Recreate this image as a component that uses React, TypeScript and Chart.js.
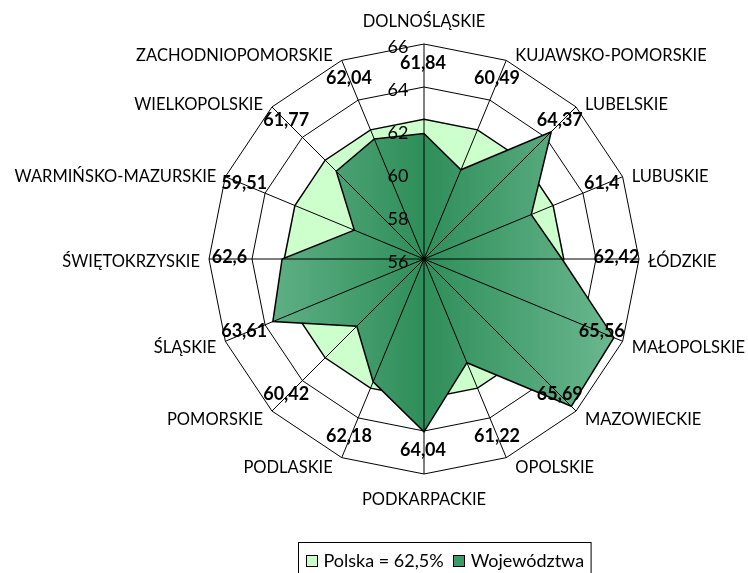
import { useEffect, useRef } from "react";
import { Chart, registerables } from "chart.js";

Chart.register(...registerables);

const categories = [
  "DOLNOŚLĄSKIE",
  "KUJAWSKO-POMORSKIE",
  "LUBELSKIE",
  "LUBUSKIE",
  "ŁÓDZKIE",
  "MAŁOPOLSKIE",
  "MAZOWIECKIE",
  "OPOLSKIE",
  "PODKARPACKIE",
  "PODLASKIE",
  "POMORSKIE",
  "ŚLĄSKIE",
  "ŚWIĘTOKRZYSKIE",
  "WARMIŃSKO-MAZURSKIE",
  "WIELKOPOLSKIE",
  "ZACHODNIOPOMORSKIE",
];

const wojewodztwa = [
  61.84, 60.49, 64.37, 61.4, 62.42, 65.56, 65.69, 61.22, 64.04, 62.18, 60.42,
  63.61, 62.6, 59.51, 61.77, 62.04,
];

const polska = [
  62.5, 62.5, 62.5, 62.5, 62.5, 62.5, 62.5, 62.5, 62.5, 62.5, 62.5, 62.5, 62.5,
  62.5, 62.5, 62.5,
];

const tickValues = [56, 58, 60, 62, 64, 66];
const seriesLabels = ["Polska = 62,5%", "Województwa"];

const FONT = "Lato, 'Open Sans', sans-serif";
const LIGHT = "#ccffcc";
const DARK_SWATCH = "#3f9a6a";

const overlayPlugin = {
  id: "overlay",
  afterDatasetsDraw(chart: any) {
    const r = chart.scales.r;
    const ctx = chart.ctx as CanvasRenderingContext2D;
    const n = categories.length;
    ctx.save();
    // spokes drawn on top of fills
    ctx.strokeStyle = "#000";
    ctx.lineWidth = 1;
    for (let i = 0; i < n; i++) {
      const p = r.getPointPositionForValue(i, r.max);
      ctx.beginPath();
      ctx.moveTo(r.xCenter, r.yCenter);
      ctx.lineTo(p.x, p.y);
      ctx.stroke();
    }
    // tick labels
    ctx.fillStyle = "#000";
    ctx.font = `18px ${FONT}`;
    ctx.textAlign = "center";
    ctx.textBaseline = "middle";
    for (const v of tickValues) {
      const p = r.getPointPositionForValue(0, v);
      ctx.fillText(String(v), r.xCenter - 26, p.y + 3);
    }
    // data labels
    ctx.font = `bold 18px ${FONT}`;
    wojewodztwa.forEach((v, i) => {
      const p = r.getPointPositionForValue(i, 65);
      ctx.fillText(String(v).replace(".", ","), p.x - 1, p.y - 2);
    });
    // category labels
    ctx.font = `16.5px ${FONT}`;
    categories.forEach((c, i) => {
      const a = (i / n) * Math.PI * 2;
      const s = Math.sin(a);
      const co = Math.cos(a);
      const p = r.getPointPositionForValue(i, r.max);
      let x = p.x;
      let y = p.y;
      let align: CanvasTextAlign = "center";
      if (s > 0.01) {
        align = "left";
        x = p.x + 9;
        y = p.y + 3 - co * 8;
      } else if (s < -0.01) {
        align = "right";
        x = p.x - 9;
        y = p.y + 3 - co * 8;
      } else {
        y = p.y + 2 - co * 24;
      }
      ctx.textAlign = align;
      ctx.fillText(c, x, y);
    });
    ctx.restore();
  },
  afterDraw(chart: any) {
    const ctx = chart.ctx as CanvasRenderingContext2D;
    ctx.save();
    ctx.font = `18px ${FONT}`;
    ctx.textBaseline = "middle";
    ctx.textAlign = "left";
    const box = 11;
    const gap = 7;
    const itemGap = 9;
    const pad = 7;
    const colors = [LIGHT, DARK_SWATCH];
    const widths = seriesLabels.map((t) => ctx.measureText(t).width);
    const total =
      pad * 2 +
      widths.reduce((a, w) => a + box + gap + w, 0) +
      itemGap * (seriesLabels.length - 1);
    const cx = 444;
    const left = Math.round(cx - total / 2) + 0.5;
    const top = 542.5;
    ctx.strokeStyle = "#000";
    ctx.lineWidth = 1;
    ctx.strokeRect(left, top, total, 40);
    let x = left + pad;
    const yMid = 560;
    seriesLabels.forEach((t, i) => {
      const bx = Math.round(x) + 0.5;
      const by = Math.round(yMid - box / 2) + 0.5;
      ctx.fillStyle = colors[i];
      ctx.fillRect(bx, by, box, box);
      ctx.strokeRect(bx, by, box, box);
      x += box + gap;
      ctx.fillStyle = "#000";
      ctx.fillText(t, x, yMid + 1);
      x += widths[i] + itemGap;
    });
    ctx.restore();
  },
};

export default function App() {
  const ref = useRef<HTMLCanvasElement>(null);
  useEffect(() => {
    if (!ref.current) return;
    const chart = new Chart(ref.current, {
      type: "radar",
      data: {
        labels: categories,
        datasets: [
          {
            label: seriesLabels[0],
            data: polska,
            backgroundColor: LIGHT,
            borderColor: "#000",
            borderWidth: 1.5,
            pointRadius: 0,
            fill: true,
            order: 2,
          },
          {
            label: seriesLabels[1],
            data: wojewodztwa,
            backgroundColor: (c: any) => {
              const ch = c.chart;
              const r = ch.scales.r;
              if (!r || !ch.chartArea) return DARK_SWATCH;
              const R = r.drawingArea;
              const g = ch.ctx.createLinearGradient(
                r.xCenter - R,
                0,
                r.xCenter + R,
                0
              );
              g.addColorStop(0, "#72bd96");
              g.addColorStop(0.5, "#2f8e5a");
              g.addColorStop(1, "#72bd96");
              return g;
            },
            borderColor: "#000",
            borderWidth: 1.5,
            pointRadius: 0,
            fill: true,
            order: 1,
          },
        ],
      },
      options: {
        responsive: false,
        animation: false,
        layout: { padding: { left: 209, right: 109, top: 44, bottom: 99 } },
        plugins: {
          legend: { display: false },
          tooltip: { enabled: false },
        },
        elements: { line: { tension: 0 } },
        scales: {
          r: {
            min: 56,
            max: 66,
            ticks: { stepSize: 2, display: false },
            grid: { color: "#000", lineWidth: 1 },
            angleLines: { display: false },
            pointLabels: { display: false },
          },
        },
      },
      plugins: [overlayPlugin],
    });
    return () => chart.destroy();
  }, []);
  return (
    <div
      style={{
        position: "fixed",
        left: 0,
        top: 0,
        width: 748,
        height: 573,
        background: "#fff",
      }}
    >
      <canvas ref={ref} width={748} height={573} style={{ display: "block" }} />
    </div>
  );
}
